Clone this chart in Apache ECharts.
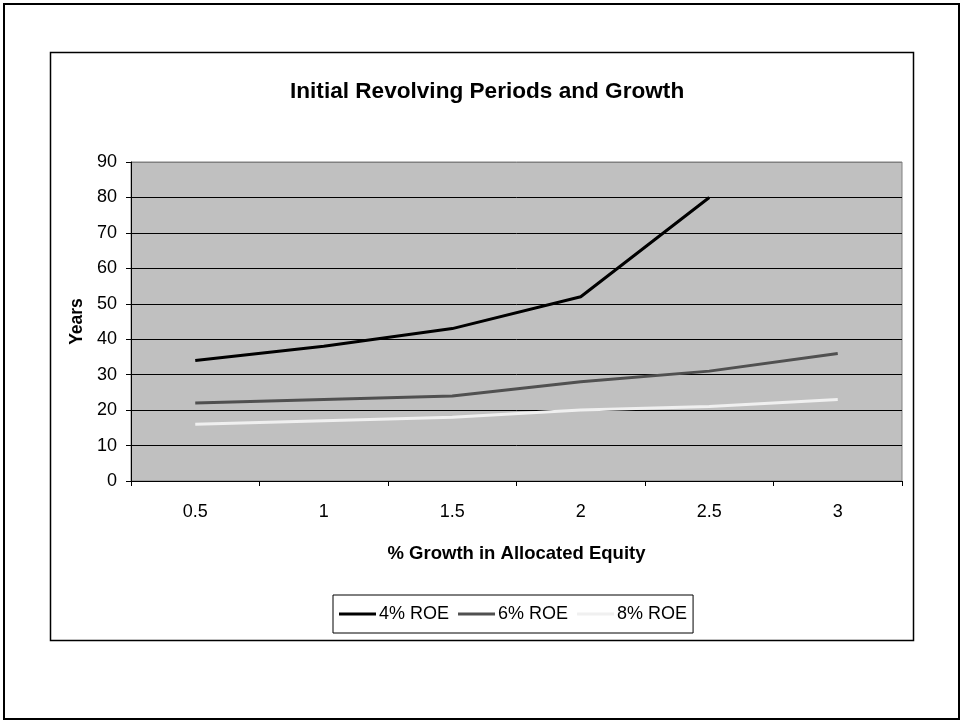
<!DOCTYPE html>
<html><head><meta charset="utf-8">
<script src="https://cdn.jsdelivr.net/npm/echarts@6/dist/echarts.min.js"></script>
<style>html,body{margin:0;padding:0;background:#fff}#c{width:961px;height:721px}</style>
</head><body><div id="c"></div>
<script>
const categories = ['0.5', '1', '1.5', '2', '2.5', '3'];
const roe4 = [34, 38, 43, 52, 80, null];
const roe6 = [22, 23, 24, 28, 31, 36];
const roe8 = [16, 17, 18, 20, 21, 23];
const seriesNames = ['4% ROE', '6% ROE', '8% ROE'];
const FONT = '"Liberation Sans", Arial, sans-serif';

const chart = echarts.init(document.getElementById('c'), null, {renderer: 'canvas'});
function line(name, data, color) {
  return {name, type: 'line', data, symbol: 'none', showSymbol: false,
    lineStyle: {color, width: 3}, itemStyle: {color}, connectNulls: false, z: 5, animation: false};
}
const splitColors = ['#000','#000','#000','#000','#000','#000','#000','#000','#000','#808080'];
chart.setOption({
  animation: false,
  textStyle: {fontFamily: FONT},
  graphic: [
    {type: 'rect', shape: {x: 4, y: 4, width: 955, height: 715}, style: {fill: 'none', stroke: '#000', lineWidth: 2}, z: -10},
    {type: 'rect', shape: {x: 50.5, y: 52.5, width: 863, height: 588}, style: {fill: '#fff', stroke: '#000', lineWidth: 1.5}, z: -9}
  ],
  title: {text: 'Initial Revolving Periods and Growth', left: 285, top: 75,
    textStyle: {fontFamily: FONT, fontSize: 22.6, fontWeight: 'bold', color: '#000'}},
  grid: {left: 131, right: 59, top: 162, bottom: 240, show: true, backgroundColor: '#c0c0c0', borderColor: '#808080', borderWidth: 1},
  legend: {data: seriesNames, left: 333, top: 595, padding: [10, 6, 10, 6], icon: 'rect',
    itemWidth: 37, itemHeight: 3, itemGap: 9, borderColor: '#000', borderWidth: 1, backgroundColor: '#fff',
    textStyle: {fontFamily: FONT, fontSize: 18, color: '#000', padding: [0, 0, 0, -2]}},
  xAxis: {type: 'category', data: categories, boundaryGap: true,
    name: '% Growth in Allocated Equity', nameLocation: 'middle', nameGap: 63,
    nameTextStyle: {fontFamily: FONT, fontSize: 18.5, fontWeight: 'bold', color: '#000'},
    axisLine: {lineStyle: {color: '#000', width: 1}},
    axisTick: {show: true, alignWithLabel: false, length: 5, lineStyle: {color: '#000'}},
    axisLabel: {fontFamily: FONT, fontSize: 18, color: '#000', margin: 22},
    splitLine: {show: false}},
  yAxis: {type: 'value', min: 0, max: 90, interval: 10,
    name: 'Years', nameLocation: 'middle', nameGap: 36, nameRotate: 90,
    nameTextStyle: {fontFamily: FONT, fontSize: 17.5, fontWeight: 'bold', color: '#000'},
    axisLine: {show: true, lineStyle: {color: '#000', width: 1}},
    axisTick: {show: true, length: 5, lineStyle: {color: '#000'}},
    axisLabel: {fontFamily: FONT, fontSize: 18, color: '#000', margin: 14},
    splitLine: {show: true, lineStyle: {color: splitColors, width: 1}}},
  series: [line(seriesNames[0], roe4, '#000000'), line(seriesNames[1], roe6, '#505050'), line(seriesNames[2], roe8, '#f0f0f0')]
});
</script></body></html>
